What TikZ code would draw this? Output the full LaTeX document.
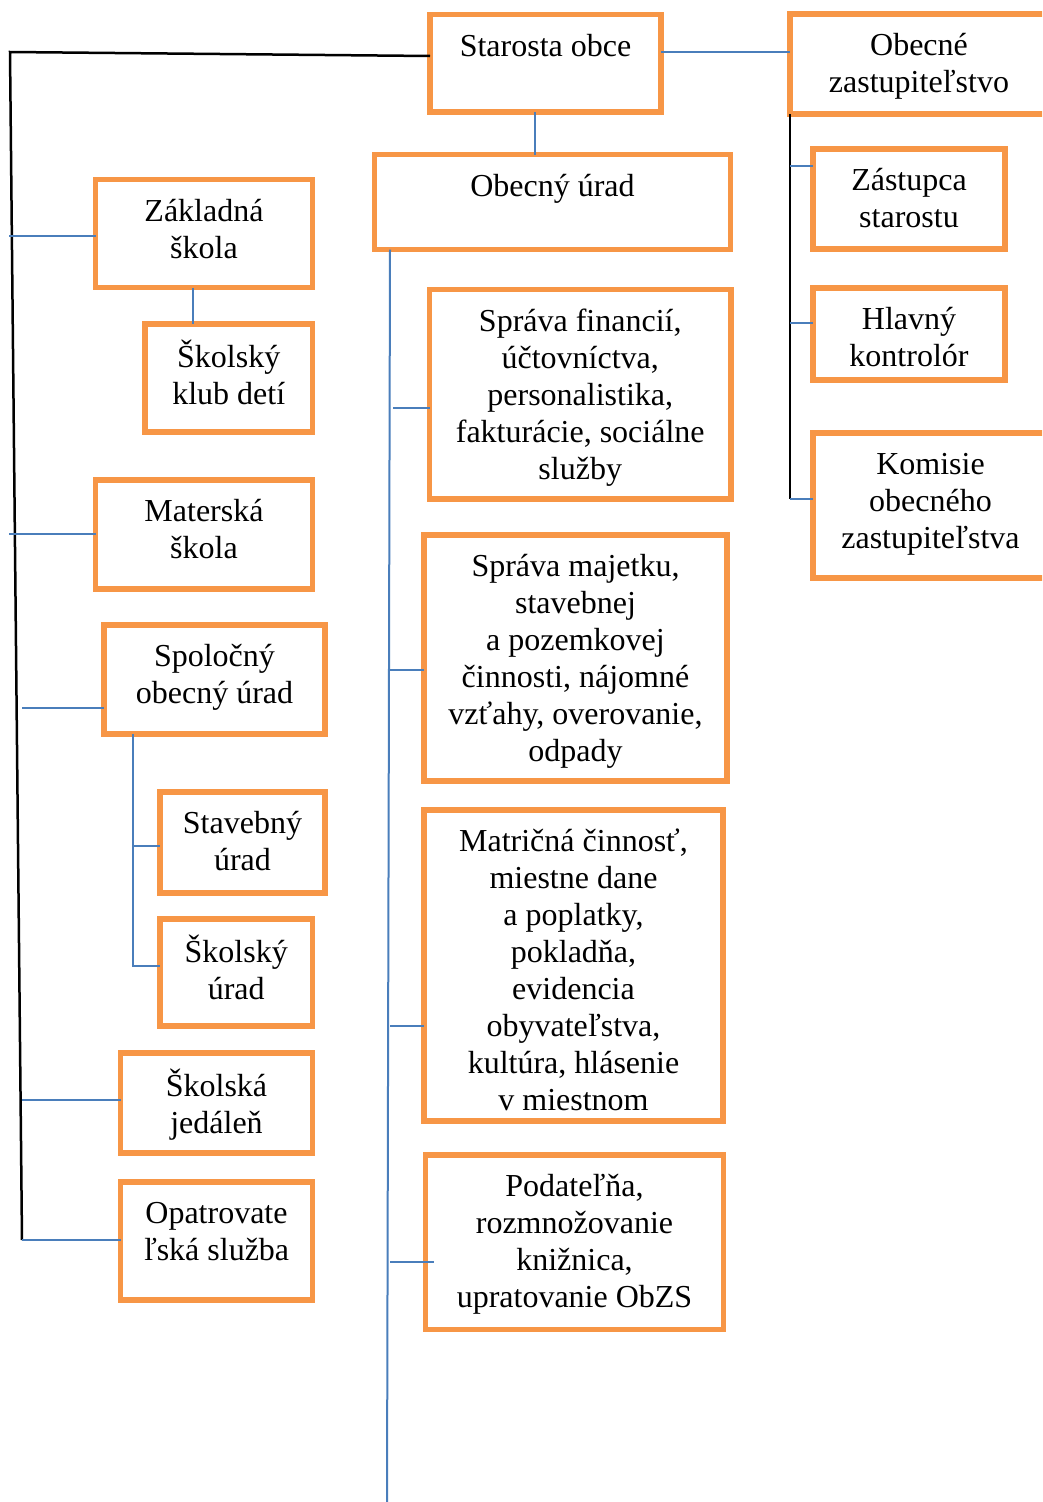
\documentclass[tikz,border=0pt]{standalone}
\usepackage{fontspec}
\setmainfont{Liberation Serif}
\definecolor{orng}{HTML}{F79646}
\definecolor{lblue}{HTML}{4A7EBB}
\tikzset{
 obx/.style={draw=orng, line width=5.5pt, rectangle, inner sep=0pt, outer sep=0pt, anchor=north west},
 otx/.style={anchor=north, align=center, inner sep=0pt, font=\fontsize{32}{37}\selectfont},
 bl/.style={draw=lblue, line width=2pt},
 blk/.style={draw=black, line width=2.5pt}
}
\newcommand\obox[6]{%
 \node[obx, minimum width={(#4)-(#2)}, minimum height={(#5)-(#3)}] (#1) at (#2,#3) {};
 \node[otx] (#1t) at ({((#2)+(#4))/2},{(#3)+15.5}) {\strut #6};
}
\begin{document}
\begin{tikzpicture}[x=1pt,y=-1pt]
\useasboundingbox (0,0) rectangle (1042,1502);
\clip (0,0) rectangle (1042,1502);
% boxes
\obox{st}{430}{14.5}{661}{112}{Starosta obce}
\obox{oz}{790}{14}{1048}{114}{Obecné\\zastupiteľstvo}
\obox{ou}{374.5}{154.5}{730.5}{249.5}{Obecný úrad}
\obox{zs}{95.5}{179.5}{312.5}{287.5}{Základná\\škola}
\obox{skd}{145}{324}{312.5}{432}{Školský\\klub detí}
\obox{ms}{95.5}{480}{312.5}{589}{Materská\\škola}
\obox{sou}{104}{625}{325}{734}{Spoločný\\obecný úrad}
\obox{su}{160}{792}{325}{893}{Stavebný\\úrad}
\obox{sku}{160}{919}{312.5}{1026}{Školský\\úrad}
\obox{sj}{120.5}{1053}{312.5}{1153}{Školská\\jedáleň}
\obox{os}{120.5}{1182}{312.5}{1300}{Opatrovate\\ľská služba}
\obox{sf}{429.5}{289.5}{731}{499}{Správa financií,\\účtovníctva,\\personalistika,\\fakturácie, sociálne\\služby}
\obox{sm}{424}{535}{727}{781}{Správa majetku,\\stavebnej\\a pozemkovej\\činnosti, nájomné\\vzťahy, overovanie,\\odpady}
\obox{mc}{424}{810}{723}{1121}{Matričná činnosť,\\miestne dane\\a poplatky,\\pokladňa,\\evidencia\\obyvateľstva,\\kultúra, hlásenie\\v miestnom}
\obox{pd}{425.5}{1155}{723.5}{1329.5}{Podateľňa,\\rozmnožovanie\\knižnica,\\upratovanie ObZS}
\obox{zst}{813}{149}{1005}{249}{Zástupca\\starostu}
\obox{hk}{813}{288}{1005}{380}{Hlavný\\kontrolór}
\obox{ko}{813}{433}{1048}{578}{Komisie\\obecného\\zastupiteľstva}
% left trunk
\coordinate (lt) at (10,52);
\coordinate (lb) at (22,1240);
\draw[blk] (st.west |- 0,56) -- (lt) -- (lb);
\coordinate (b1) at (9,236);
\coordinate (b2) at (9,534);
\coordinate (b3) at (22,708);
\coordinate (b4) at (22,1100);
\draw[bl] (b1) -- (b1 -| zs.west);
\draw[bl] (b2) -- (b2 -| ms.west);
\draw[bl] (b3) -- (b3 -| sou.west);
\draw[bl] (b4) -- (b4 -| sj.west);
\draw[bl] (lb) -- (lb -| os.west);
\draw[bl] (zs.south -| 193,0) -- (skd.north -| 193,0);
% Spolocny branch
\coordinate (sv1) at (133,846);
\coordinate (sv2) at (133,966);
\draw[bl] (sou.south -| sv2) -- (sv2) -- (sv2 -| sku.west);
\draw[bl] (sv1) -- (sv1 -| su.west);
% center trunk
\draw[bl] ([xshift=-10.5pt]st.south) -- ([xshift=-10.5pt]st.south |- ou.north);
\coordinate (cb) at (387,1502);
\draw[bl] (ou.south -| 390,0) -- (cb);
\coordinate (c1) at (393,408);
\coordinate (c2) at (390,670);
\coordinate (c3) at (390,1026);
\coordinate (c4) at (390,1262);
\draw[bl] (c1) -- (c1 -| sf.west);
\draw[bl] (c2) -- (c2 -| sm.west);
\draw[bl] (c3) -- (c3 -| mc.west);
\draw[bl] (c4) -- ([xshift=8pt]c4 -| pd.west);
% right side
\draw[bl] (st.east |- 0,52) -- (oz.west |- 0,52);
\coordinate (rb) at (790,499);
\draw[blk] (oz.south west) -- (rb);
\coordinate (r1) at (790,166);
\coordinate (r2) at (790,323);
\draw[bl] (r1) -- (r1 -| zst.west);
\draw[bl] (r2) -- (r2 -| hk.west);
\draw[bl] (rb) -- (rb -| ko.west);
\end{tikzpicture}
\end{document}
